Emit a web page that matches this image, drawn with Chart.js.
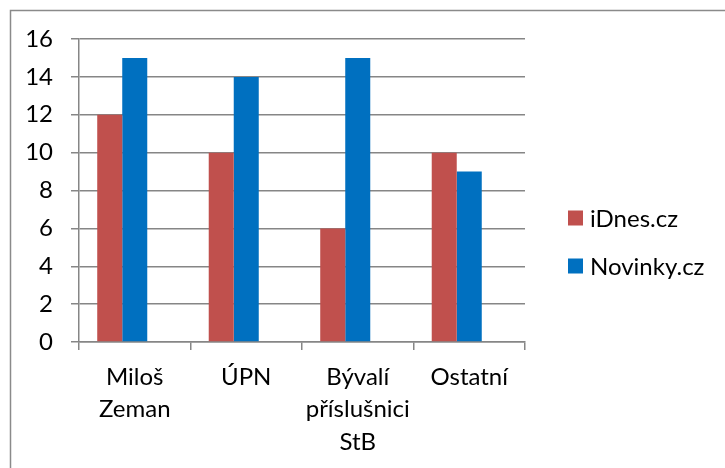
<!DOCTYPE html>
<html>
<head>
<meta charset="utf-8">
<script src="https://cdn.jsdelivr.net/npm/chart.js@4/dist/chart.umd.min.js"></script>
<style>
  html, body { margin: 0; padding: 0; background: #ffffff; }
  #wrap { width: 725px; height: 468px; position: relative; }
</style>
</head>
<body>
<div id="wrap"><canvas id="c" width="725" height="468"></canvas></div>
<script>
const categories = [["Miloš", "Zeman"], "ÚPN", ["Bývalí", "příslušnici", "StB"], "Ostatní"];
const seriesNames = ["iDnes.cz", "Novinky.cz"];
const idnesValues = [12, 10, 6, 10];
const novinkyValues = [15, 14, 15, 9];
// the original chart reserves a slot for a third, empty series
const emptySeriesValues = [null, null, null, null];
const seriesColors = ["#C0504D", "#0070C0"];
const yTicks = { min: 0, max: 16, step: 2 };

const FONT = "Lato, 'Open Sans', sans-serif";

const frameAndLegend = {
  id: 'frameAndLegend',
  beforeDraw(chart) {
    const ctx = chart.ctx;
    ctx.save();
    ctx.fillStyle = '#ffffff';
    ctx.fillRect(0, 0, chart.width, chart.height);
    ctx.strokeStyle = '#8a8a8a';
    ctx.lineWidth = 1.5;
    ctx.strokeRect(10.5, 10.5, 900, 900);
    ctx.restore();
  },
  afterDraw(chart) {
    const ctx = chart.ctx;
    const area = chart.chartArea;
    ctx.save();
    ctx.font = "24px " + FONT;
    ctx.textBaseline = 'middle';
    const x0 = area.right + 43;
    const y0 = 218;
    chart.data.datasets.filter(ds => ds.label).forEach((ds, i) => {
      const y = y0 + i * 48;
      ctx.fillStyle = ds.backgroundColor;
      ctx.fillRect(x0, y - 7.5, 15, 15);
      ctx.fillStyle = '#000000';
      ctx.fillText(ds.label, x0 + 22, y + 1);
    });
    ctx.restore();
  }
};

new Chart(document.getElementById('c'), {
  type: 'bar',
  data: {
    labels: categories,
    datasets: [
      { label: seriesNames[0], data: idnesValues, backgroundColor: seriesColors[0] },
      { label: seriesNames[1], data: novinkyValues, backgroundColor: seriesColors[1] },
      { label: '', data: emptySeriesValues, backgroundColor: 'rgba(0,0,0,0)' }
    ]
  },
  options: {
    responsive: false,
    animation: false,
    devicePixelRatio: 1,
    layout: { padding: { left: 0, top: 39, right: 200, bottom: 0 } },
    datasets: { bar: { categoryPercentage: 0.673, barPercentage: 1.0, borderWidth: 0 } },
    plugins: { legend: { display: false }, tooltip: { enabled: false } },
    scales: {
      x: {
        grid: { display: true, drawOnChartArea: false, drawTicks: true, tickLength: 8, color: '#868686', lineWidth: 1.5, offset: true },
        border: { display: true, color: '#868686', width: 1.5 },
        ticks: { color: '#000000', font: { family: FONT, size: 24, lineHeight: 1.35 }, padding: 11, maxRotation: 0, autoSkip: false },
        afterFit(scale) { scale.height = 126; }
      },
      y: {
        min: yTicks.min, max: yTicks.max,
        grid: { color: '#868686', lineWidth: 1.5, tickLength: 8, drawTicks: true },
        border: { display: true, color: '#868686', width: 1.5 },
        ticks: { stepSize: yTicks.step, color: '#000000', font: { family: FONT, size: 24 }, padding: 18 },
        afterFit(scale) { scale.width = 79; }
      }
    }
  },
  plugins: [frameAndLegend]
});
</script>
</body>
</html>
